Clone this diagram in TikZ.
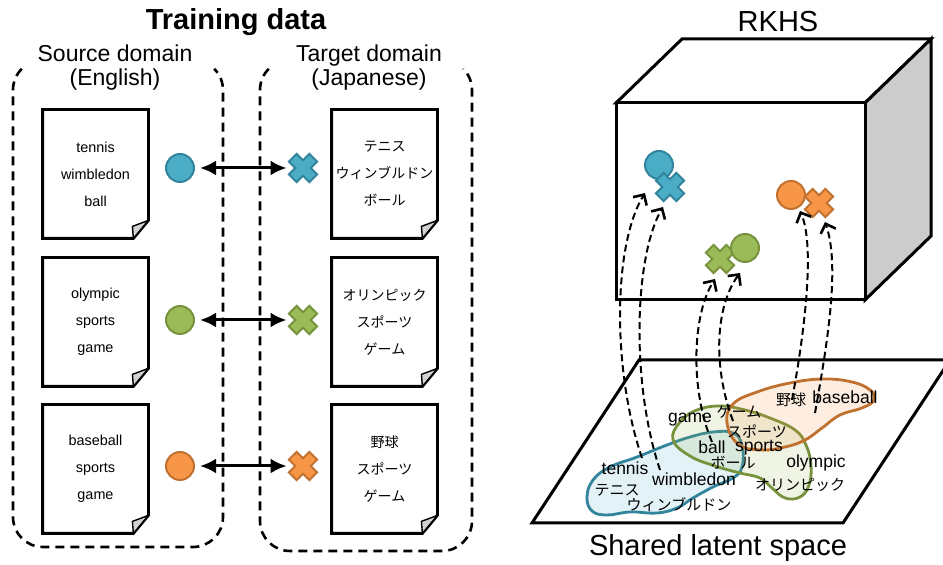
\documentclass[tikz,border=0pt]{standalone}
\usepackage{fontspec}
\setmainfont{Liberation Sans}
\newfontfamily\jpfont{Noto Sans CJK JP}
\usetikzlibrary{arrows.meta,calc}

\definecolor{cblue}{HTML}{4BACC6}
\definecolor{cblueD}{HTML}{31849B}
\definecolor{cgreen}{HTML}{9BBB59}
\definecolor{cgreenD}{HTML}{76923C}
\definecolor{corange}{HTML}{F79646}
\definecolor{corangeD}{HTML}{C0712F}

\tikzset{
  docbox/.style={rectangle, minimum width=52.5pt, minimum height=64pt, inner sep=0pt,
    align=center, font=\fontsize{7.2}{13.5}\selectfont},
  docjp/.style={docbox, font=\jpfont\fontsize{7}{13.5}\selectfont},
  docline/.style={line width=1.4pt, line join=miter},
  foldline/.style={line width=0.7pt, line join=round, fill=gray!35},
  dot/.style={circle, minimum size=14pt, inner sep=0pt, fill=#1, draw=#1D, line width=1pt},
  xspot/.style={circle, minimum size=14pt, inner sep=0pt},
  pairarrow/.style={line width=1.5pt,
    {Latex[length=8pt,width=7.5pt]}-{Latex[length=8pt,width=7.5pt]},
    shorten <=2.5pt, shorten >=1pt},
  zonebox/.style={line width=1.3pt, dash pattern=on 4.5pt off 3pt},
  liftarrow/.style={line width=1pt, dash pattern=on 3.5pt off 2pt,
    -{Straight Barb[length=4pt,width=8pt,line width=1.3pt]}},
  cubeline/.style={line width=1.5pt, line join=miter},
  blob/.style={line width=1.4pt, draw=#1D, fill=#1, fill opacity=0.16},
  pw/.style={inner sep=0pt, font=\fontsize{8.75}{10}\selectfont},
  pj/.style={inner sep=0pt, font=\jpfont\fontsize{7.5}{9}\selectfont},
  heading/.style={inner sep=0pt, align=center, font=\fontsize{11.5}{12}\selectfont},
  bigtitle/.style={inner sep=0pt, font=\fontsize{14.5}{17}\selectfont},
  xmark/.pic={
    \draw[fill=#1, draw=#1D, line width=1pt, line join=miter]
      (6.36,14.14) -- (0,7.78) -- (-6.36,14.14) -- (-14.14,6.36) -- (-7.78,0)
      -- (-14.14,-6.36) -- (-6.36,-14.14) -- (0,-7.78) -- (6.36,-14.14)
      -- (14.14,-6.36) -- (7.78,0) -- (14.14,6.36) -- cycle;
  }
}

\begin{document}
\begin{tikzpicture}[x=0.5pt, y=-0.5pt]
\useasboundingbox (0,0) rectangle (943,565);

% ---------------- training data ----------------
\node[bigtitle, font=\bfseries\fontsize{14.5}{17}\selectfont] (title) at (236,22) {Training data};
\node[heading] (srclab) at (115,68) {Source domain\\(English)};
\node[heading] (tgtlab) at (369,68) {Target domain\\(Japanese)};

% dashed domain frames, open at the top behind the headings
\draw[zonebox] (21.79,68.79) .. controls (16.16,74.41) and (13,82.04) .. (13,90)
  -- (13,517) .. controls (13,533.57) and (26.43,547) .. (43,547)
  -- (193,547) .. controls (209.57,547) and (223,533.57) .. (223,517)
  -- (223,90) .. controls (223,82.04) and (219.84,74.41) .. (214.21,68.79);
\draw[zonebox] (268.79,68.79) .. controls (263.16,74.41) and (260,82.04) .. (260,90)
  -- (260,521) .. controls (260,537.57) and (273.43,551) .. (290,551)
  -- (442,551) .. controls (458.57,551) and (472,537.57) .. (472,521)
  -- (472,90) .. controls (472,82.04) and (468.84,74.41) .. (463.21,68.79);

% documents
\node[docbox] (s1) at (95.5,174) {tennis\\wimbledon\\ball};
\node[docbox] (s2) at (95.5,322) {olympic\\sports\\game};
\node[docbox] (s3) at (95.5,469) {baseball\\sports\\game};
\node[docjp] (t1) at (384.5,174) {テニス\\ウィンブルドン\\ボール};
\node[docjp] (t2) at (384.5,322) {オリンピック\\スポーツ\\ゲーム};
\node[docjp] (t3) at (384.5,469) {野球\\スポーツ\\ゲーム};
\foreach \d in {s1,s2,s3,t1,t2,t3} {
  \draw[docline] (\d.north west) -- (\d.north east) -- ($(\d.south east)+(0,-18)$)
    -- ($(\d.south east)+(-15,0)$) -- (\d.south west) -- cycle;
  \draw[foldline] ($(\d.south east)+(0,-18)$) -- ($(\d.south east)+(-16,-12)$)
    -- ($(\d.south east)+(-15,0)$) -- cycle;
}

% document embeddings
\node[dot=cblue] (sc1) at (180,168) {};
\node[dot=cgreen] (sc2) at (180,320) {};
\node[dot=corange] (sc3) at (180,466) {};
\node[xspot] (tx1) at (303,168) {};
\node[xspot] (tx2) at (303,320) {};
\node[xspot] (tx3) at (303,466) {};
\pic at (tx1) {xmark=cblue};
\pic at (tx2) {xmark=cgreen};
\pic at (tx3) {xmark=corange};

\draw[pairarrow] (sc1) -- (tx1);
\draw[pairarrow] (sc2) -- (tx2);
\draw[pairarrow] (sc3) -- (tx3);

% ---------------- RKHS cube ----------------
\node[bigtitle] (rkhs) at (778,22) {RKHS};
\draw[cubeline, fill=white] (616,103) -- (682,39) -- (931,39) -- (865,103) -- cycle;
\draw[cubeline, fill=gray!40] (865,103) -- (931,39) -- (931,236) -- (865,300) -- cycle;
\draw[cubeline, fill=white] (616,103) rectangle (865,300);

\node[dot=cblue] (rb1) at (659,165) {};
\node[xspot] (rb2) at (670,187) {};
\pic at (rb2) {xmark=cblue};
\node[dot=corange] (ro1) at (791,195) {};
\node[xspot] (ro2) at (819,203) {};
\pic at (ro2) {xmark=corange};
\node[xspot] (rg2) at (720,259) {};
\pic at (rg2) {xmark=cgreen};
\node[dot=cgreen] (rg1) at (745,248) {};

% ---------------- shared latent space ----------------
\draw[cubeline] (639,360) -- (950,360) -- (843,523) -- (532,523) -- cycle;
\node[bigtitle] (latent) at (718,548) {Shared latent space};

\draw[blob=cblue] plot[smooth cycle, tension=0.7] coordinates {
  (587,497) (593,480) (610,467) (637,457) (667,445) (690,437) (713,432)
  (733,433) (742,445) (742,467) (733,478) (713,487) (693,498) (677,508)
  (657,513) (630,512) (607,515) (592,511)};
\draw[blob=cgreen] plot[smooth cycle, tension=0.7] coordinates {
  (673,440) (680,422) (697,410) (720,406) (745,410) (770,418) (795,430)
  (806,445) (811,465) (809,485) (800,497) (785,498) (772,488) (760,478)
  (740,473) (715,466) (690,456)};
\draw[blob=corange] plot[smooth cycle, tension=0.7] coordinates {
  (727,423) (733,404) (757,392) (790,383) (823,379) (852,382) (870,390)
  (874,400) (862,408) (840,415) (822,428) (805,440) (785,447) (760,450)
  (738,444)};

\node[pw] (w-tennis) at (625,468) {tennis};
\node[pw] (w-wimb) at (694,479) {wimbledon};
\node[pj] (j-tennis) at (617,490) {テニス};
\node[pj] (j-wimb) at (679,505) {ウィンブルドン};
\node[pw] (w-game) at (690,420) {game};
\node[pj] (j-game) at (739,412) {ゲーム};
\node[pj] (j-sports) at (757,431) {スポーツ};
\node[pw] (w-ball) at (712,447) {ball};
\node[pw] (w-sports) at (759,448) {sports};
\node[pj] (j-ball) at (733,463) {ボール};
\node[pw] (w-olympic) at (816,463) {olympic};
\node[pj] (j-olympic) at (800,485) {オリンピック};
\node[pj] (j-base) at (791,400) {野球};
\node[pw] (w-base) at (845,397) {baseball};

% lifts from the latent space into the RKHS
\coordinate (b1s) at (642,458); \coordinate (b1e) at (645,193);
\coordinate (b2s) at (660,470); \coordinate (b2e) at (663,207);
\coordinate (g1s) at (712,442); \coordinate (g1e) at (715,279);
\coordinate (g2s) at (733,421); \coordinate (g2e) at (740,273);
\coordinate (o1s) at (792,400); \coordinate (o1e) at (800,211);
\coordinate (o2s) at (815,413); \coordinate (o2e) at (825,222);
\draw[liftarrow] (b1s) .. controls (612,370) and (613,245) .. (b1e);
\draw[liftarrow] (b2s) .. controls (630,380) and (635,255) .. (b2e);
\draw[liftarrow] (g1s) .. controls (690,390) and (692,315) .. (g1e);
\draw[liftarrow] (g2s) .. controls (712,365) and (716,305) .. (g2e);
\draw[liftarrow] (o1s) .. controls (805,330) and (815,245) .. (o1e);
\draw[liftarrow] (o2s) .. controls (828,340) and (840,265) .. (o2e);
\end{tikzpicture}
\end{document}
